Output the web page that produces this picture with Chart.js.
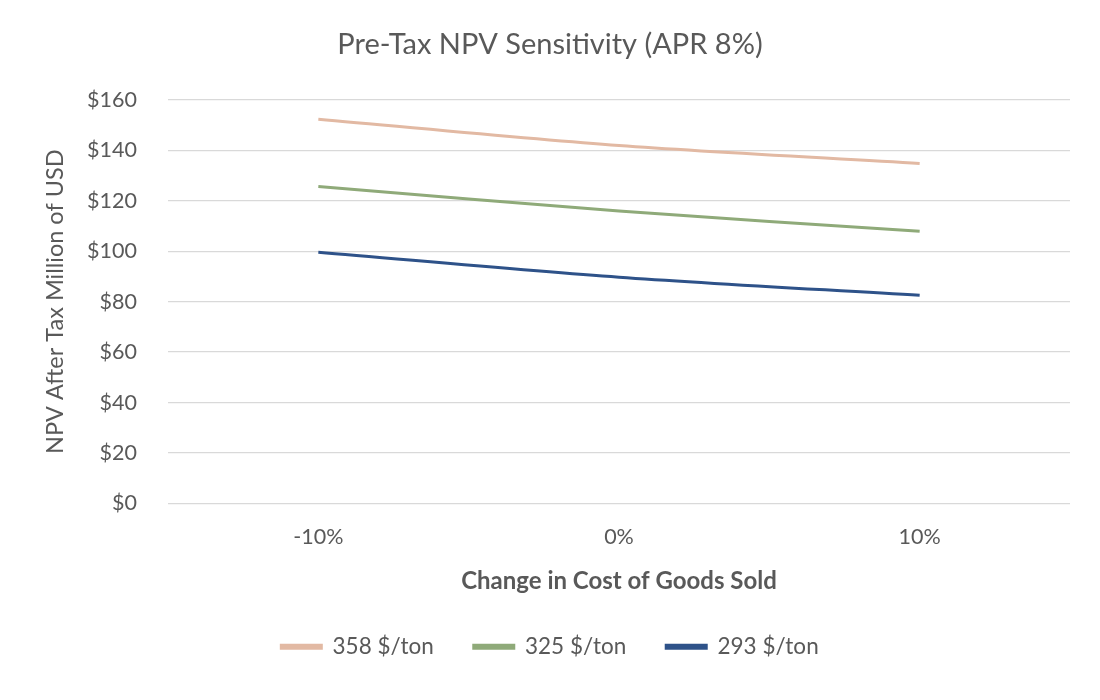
<!DOCTYPE html>
<html>
<head>
<meta charset="utf-8">
<script src="https://cdn.jsdelivr.net/npm/chart.js@4.4.1/dist/chart.umd.min.js"></script>
<style>
  html, body { margin: 0; padding: 0; background: #fff; }
  #wrap { width: 1100px; height: 700px; }
</style>
</head>
<body>
<div id="wrap"><canvas id="npvChart" width="1100" height="700"></canvas></div>
<script>
const categories = ["-10%", "0%", "10%"];
const series358 = [152.3, 141.9, 134.8];
const series325 = [125.6, 115.9, 107.9];
const series293 = [99.6, 89.7, 82.5];
const yTicks = [0, 20, 40, 60, 80, 100, 120, 140, 160];

const textColor = "#595959";
const fontFamily = "Lato, 'Open Sans', sans-serif";

Chart.defaults.font.family = fontFamily;
Chart.defaults.color = textColor;

const ctx = document.getElementById("npvChart");
new Chart(ctx, {
  type: "line",
  data: {
    labels: categories,
    datasets: [
      {
        label: "358 $/ton",
        data: series358,
        borderColor: "#E2B9A3",
        backgroundColor: "#E2B9A3",
      },
      {
        label: "325 $/ton",
        data: series325,
        borderColor: "#8FAA79",
        backgroundColor: "#8FAA79",
      },
      {
        label: "293 $/ton",
        data: series293,
        borderColor: "#2E5289",
        backgroundColor: "#2E5289",
      },
    ].map((d) => ({
      ...d,
      borderWidth: 3,
      pointRadius: 0,
      tension: 0.3,
      fill: false,
    })),
  },
  options: {
    responsive: false,
    animation: false,
    layout: { padding: { left: 0, right: 0, top: 0, bottom: 32 } },
    plugins: {
      title: {
        display: true,
        text: "Pre-Tax NPV Sensitivity (APR 8%)",
        color: textColor,
        font: { size: 29, weight: "normal" },
        padding: { top: 27, bottom: 38 },
      },
      legend: {
        position: "bottom",
        labels: {
          boxWidth: 40,
          boxHeight: 3,
          padding: 40,
          color: textColor,
          font: { size: 22.5 },
        },
      },
      tooltip: { enabled: false },
    },
    scales: {
      x: {
        offset: true,
        grid: { display: false, drawTicks: false },
        border: { display: false },
        ticks: { padding: 21, font: { size: 21.5 }, color: textColor },
        title: {
          display: true,
          text: "Change in Cost of Goods Sold",
          color: textColor,
          font: { size: 24, weight: "bold" },
          padding: { top: 0, bottom: 0 },
        },
        afterFit: (scale) => {
          scale.height = 92;
        },
      },
      y: {
        min: 0,
        max: 160,
        afterBuildTicks: (scale) => {
          scale.ticks = yTicks.map((v) => ({ value: v }));
        },
        grid: { color: "#D9D9D9", lineWidth: 1.3, drawTicks: false },
        border: { display: false },
        ticks: {
          padding: 31,
          font: { size: 21.5 },
          color: textColor,
          callback: (v) => "$" + v,
        },
        title: {
          display: true,
          text: "NPV After Tax Million of USD",
          color: textColor,
          font: { size: 23.5, weight: "normal" },
          padding: { top: 41, bottom: 0 },
        },
        afterFit: (scale) => {
          scale.width = 168;
        },
      },
      // empty right-hand spacer so title and legend stay centred on the page
      spacer: {
        type: "linear",
        position: "right",
        grid: { display: false, drawTicks: false },
        border: { display: false },
        ticks: { display: false },
        afterFit: (scale) => {
          scale.width = 30;
        },
      },
    },
  },
});
</script>
</body>
</html>
